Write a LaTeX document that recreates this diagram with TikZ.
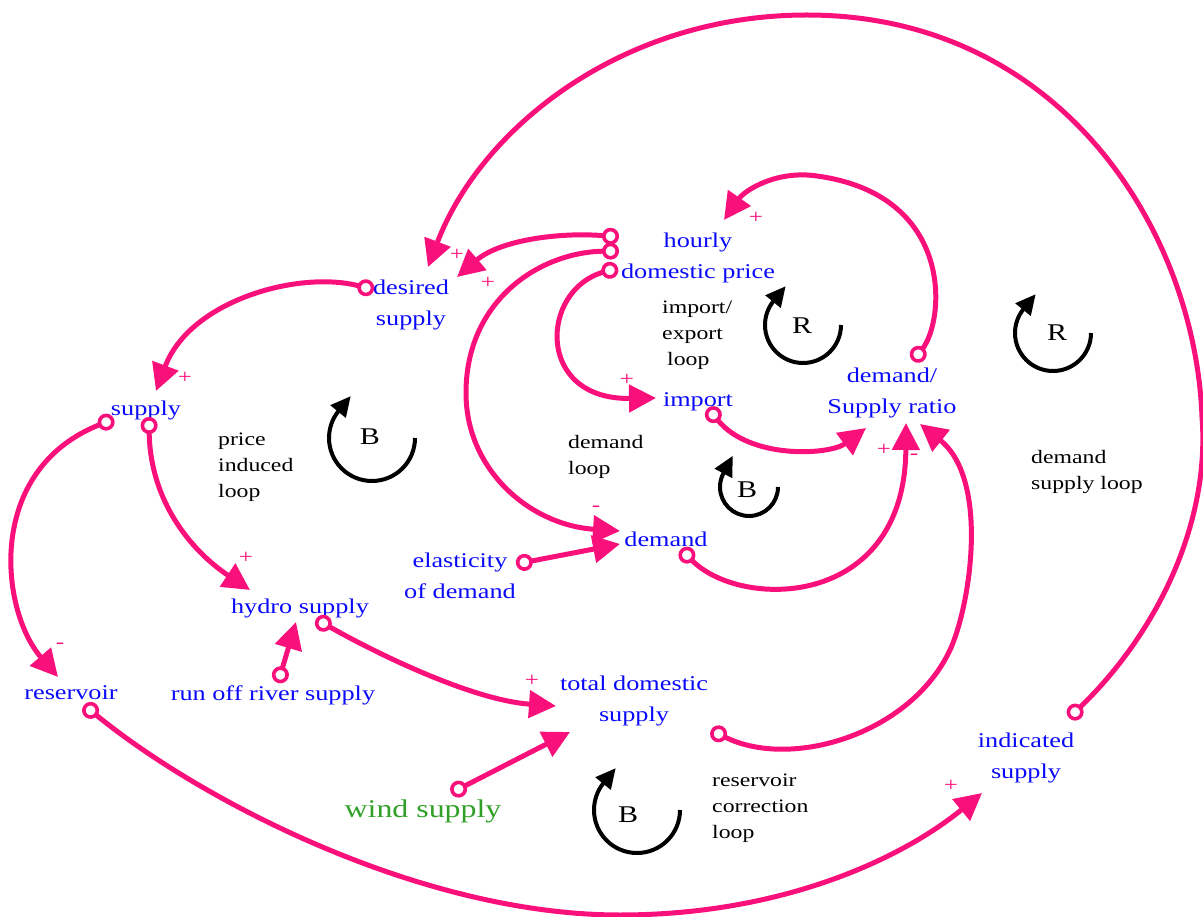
\documentclass[tikz,border=0pt]{standalone}
\usepackage{fontspec}
\setmainfont{Liberation Serif}[FakeStretch=1.25]
\usetikzlibrary{arrows.meta}
\definecolor{pk}{RGB}{250,16,122}
\definecolor{bl}{RGB}{10,10,250}
\definecolor{gr}{RGB}{48,160,40}
\tikzset{
  var/.style={text=bl, font=\fontsize{21}{31}\selectfont, align=center, inner sep=0pt},
  note/.style={text=black, font=\fontsize{19}{26}\selectfont, align=left, inner sep=0pt, anchor=west},
  sgn/.style={text=pk, font=\fontsize{20}{20}\selectfont, inner sep=0pt},
  lp/.style={text=black, font=\fontsize{24}{24}\selectfont, inner sep=0pt},
  link/.style={draw=pk, line width=5pt, arrows={Circle[length=17pt,width=17pt,fill=white,line width=3.6pt]-Triangle[length=27pt,width=27pt]}},
  loopc/.style={draw=black, line width=4pt, arrows={-Triangle[length=20pt,width=19pt]}},
}
\begin{document}
\begin{tikzpicture}[x=1pt,y=-1pt]
\useasboundingbox (0,0) rectangle (1203,917);
% variables
\node[var] (price) at (698,258) {hourly\\domestic price};
\node[var] (desired) at (411,305) {desired\\supply};
\node[var] (supply) at (146,410) {supply};
\node[var] (import) at (698,402) {import};
\node[var] (ratio) at (892,393) {demand/\\Supply ratio};
\node[var] (demand) at (666,539) {demand};
\node[var] (elast) at (460,576) {elasticity\\of demand};
\node[var] (hydro) at (300,608) {hydro supply};
\node[var] (reservoir) at (71,693) {reservoir};
\node[var] (runoff) at (273,695) {run off river supply};
\node[var] (total) at (634,701) {total domestic\\supply};
\node[var, text=gr, font=\fontsize{25.5}{31}\selectfont] (wind) at (423,811) {wind supply};
\node[var] (indicated) at (1026,758) {indicated\\supply};
% loop names
\node[note] (n1) at (662,335) {import/\\export\\\hspace*{5pt}loop};
\node[note] (n2) at (218,467) {price\\induced\\loop};
\node[note] (n3) at (568,457) {demand\\loop};
\node[note] (n4) at (1031,472) {demand\\supply loop};
\node[note] (n5) at (712,808) {reservoir\\correction\\loop};
% loop symbols
\node[lp] (l1) at (802,326) {R};
\node[lp] (l2) at (1057,333) {R};
\node[lp] (l3) at (370,437) {B};
\node[lp] (l4) at (747,490) {B};
\node[lp] (l5) at (628,815) {B};
\draw[loopc] (841,325) arc[start angle=0, end angle=218, radius=38] -- ++(12.6,-15.4);
\draw[loopc] (1091,333) arc[start angle=0, end angle=218, radius=38] -- ++(12.6,-15.4);
\draw[loopc] (415,438) arc[start angle=0, end angle=218, radius=43] -- ++(12.6,-15.4);
\draw[loopc] (778,487) arc[start angle=0, end angle=208, radius=29] -- ++(9.4,-17.6);
\draw[loopc] (680,810) arc[start angle=0, end angle=218, radius=43] -- ++(12.6,-15.4);
% links
\draw[link] ([shift={(-79,-21)}]price.center) .. controls (560,232) and (500,240) .. ([shift={(46,-28)}]desired.center);
\draw[link] ([shift={(-79,-7)}]price.center) .. controls (540,252) and (466,300) .. (466,393) .. controls (466,470) and (530,525) .. ([shift={(-46,-8)}]demand.center);
\draw[link] ([shift={(-80,10)}]price.center) .. controls (540,290) and (535,400) .. ([shift={(-42,-4)}]import.center);
\draw[link] ([shift={(21,-32)}]ratio.center) .. controls (945,320) and (955,195) .. (817,176) .. controls (777,170) and (745,190) .. ([shift={(26,-38)}]price.center);
\draw[link] ([shift={(10,6)}]import.center) .. controls (750,460) and (830,455) .. ([shift={(-26,35)}]ratio.center);
\draw[link] ([shift={(15,10)}]demand.center) .. controls (740,610) and (905,610) .. ([shift={(14,30)}]ratio.center);
\draw[link] ([shift={(77,29)}]total.center) .. controls (790,770) and (910,735) .. (950,650) .. controls (970,607) and (990,480) .. ([shift={(28,31)}]ratio.center);
\draw[link] ([shift={(56,-12)}]elast.center) -- ([shift={(-46,5)}]demand.center);
\draw[link] ([shift={(-37,-15)}]desired.center) .. controls (300,270) and (190,300) .. ([shift={(10,-19)}]supply.center);
\draw[link] ([shift={(3,7)}]supply.center) .. controls (150,500) and (190,550) .. ([shift={(-50,-18)}]hydro.center);
\draw[link] ([shift={(-32,9)}]supply.center) .. controls (-15,470) and (0,610) .. ([shift={(-13,-16)}]reservoir.center);
\draw[link] ([shift={(5,-12)}]runoff.center) -- ([shift={(-4,14)}]hydro.center);
\draw[link] ([shift={(16,11)}]hydro.center) .. controls (370,650) and (470,700) .. ([shift={(-78,5)}]total.center);
\draw[link] ([shift={(28,-18)}]wind.center) -- ([shift={(-64,31)}]total.center);
\draw[link] ([shift={(13,12)}]reservoir.center) .. controls (200,800) and (420,915) .. (620,915) .. controls (780,915) and (900,860) .. ([shift={(-44,35)}]indicated.center);
\draw[link] ([shift={(43,-40)}]indicated.center) .. controls (1160,630) and (1210,520) .. (1202,417) .. controls (1195,230) and (1060,15) .. (807,15) .. controls (620,15) and (480,130) .. ([shift={(17,-38)}]desired.center);
% polarity signs
\node[sgn] (s1) at (457,255) {+};
\node[sgn] (s2) at (488,283) {+};
\node[sgn] (s3) at (756,218) {+};
\node[sgn] (s4) at (185,378) {+};
\node[sgn] (s5) at (246,558) {+};
\node[sgn] (s6) at (60,646) {-};
\node[sgn] (s7) at (627,380) {+};
\node[sgn] (s8) at (596,509) {-};
\node[sgn] (s9) at (532,681) {+};
\node[sgn] (s10) at (884,450) {+};
\node[sgn] (s11) at (914,457) {-};
\node[sgn] (s12) at (951,786) {+};
\end{tikzpicture}
\end{document}
